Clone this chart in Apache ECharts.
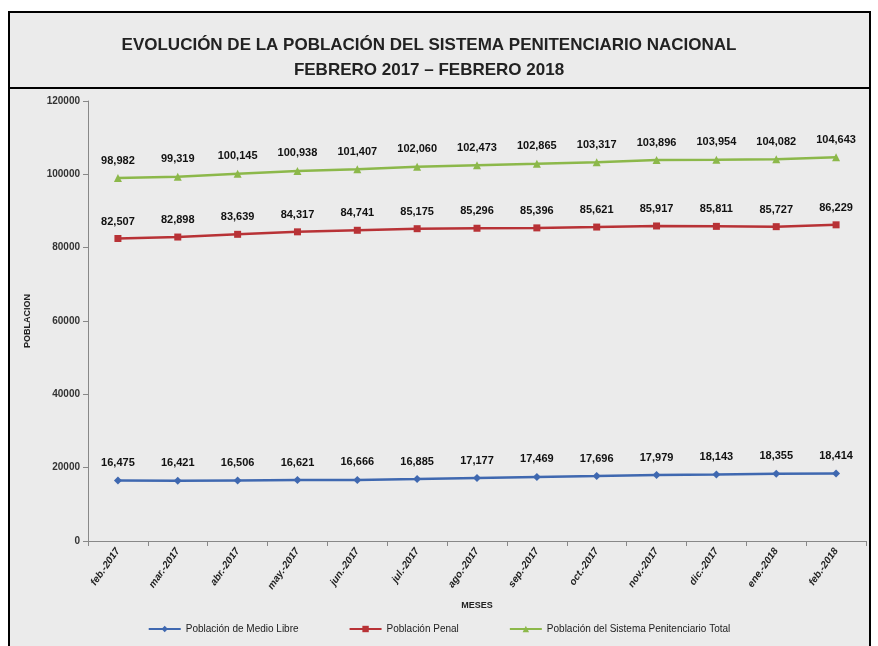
<!DOCTYPE html>
<html><head><meta charset="utf-8">
<script src="https://cdn.jsdelivr.net/npm/echarts@6/dist/echarts.min.js"></script>
<style>html,body{margin:0;padding:0;background:#fff}#c{width:878px;height:646px}</style>
</head><body><div id="c"></div>
<script>
const categories = ['feb.-2017','mar.-2017','abr.-2017','may.-2017','jun.-2017','jul.-2017','ago.-2017','sep.-2017','oct.-2017','nov.-2017','dic.-2017','ene.-2018','feb.-2018'];
const medioLibre = [16475,16421,16506,16621,16666,16885,17177,17469,17696,17979,18143,18355,18414];
const penal = [82507,82898,83639,84317,84741,85175,85296,85396,85621,85917,85811,85727,86229];
const total = [98982,99319,100145,100938,101407,102060,102473,102865,103317,103896,103954,104082,104643];
const seriesNames = ['Población de Medio Libre','Población Penal','Población del Sistema Penitenciario Total'];
const yTicks = [0,20000,40000,60000,80000,100000,120000];

const chart = echarts.init(document.getElementById('c'));
const fmt = v => v.toLocaleString('en-US');
const lab = {show:true,position:'top',distance:8,color:'#111',fontWeight:'bold',fontSize:11,fontFamily:'Liberation Sans, sans-serif',formatter:p=>fmt(p.value)};
function mk(name,data,color,symbol,size){
  return {name,type:'line',data,symbol,symbolSize:size,itemStyle:{color},lineStyle:{color,width:2.5},label:lab};
}
chart.setOption({
  backgroundColor:'#fff',
  animation:false,
  graphic:[
    {type:'rect',z:-10,shape:{x:9,y:12,width:861,height:700},style:{fill:'#ebebeb',stroke:'#000',lineWidth:2}},
    {type:'line',z:-9,shape:{x1:9,y1:88,x2:870,y2:88},style:{stroke:'#000',lineWidth:2}},
    {type:'text',x:429,y:37,style:{text:'EVOLUCIÓN DE LA POBLACIÓN DEL SISTEMA PENITENCIARIO NACIONAL',font:'bold 17px "Liberation Sans", sans-serif',fill:'#222',align:'center'}},
    {type:'text',x:429,y:62,style:{text:'FEBRERO 2017 – FEBRERO 2018',font:'bold 17px "Liberation Sans", sans-serif',fill:'#222',align:'center'}}
  ],
  grid:{left:88,right:12,top:101,bottom:105,containLabel:false},
  legend:{bottom:7,left:'center',itemGap:50,itemWidth:32,itemHeight:8,textStyle:{fontSize:10,color:'#222'},data:seriesNames},
  xAxis:{type:'category',data:categories,boundaryGap:true,name:'MESES',nameLocation:'middle',nameGap:60,
    nameTextStyle:{fontSize:9,fontWeight:'bold',color:'#222'},
    axisLine:{lineStyle:{color:'#888',width:1}},axisTick:{show:true,alignWithLabel:false,length:5,lineStyle:{color:'#888'}},
    axisLabel:{rotate:55,fontSize:10,fontStyle:'italic',fontWeight:'bold',color:'#222',margin:8}},
  yAxis:{type:'value',min:0,max:120000,interval:20000,name:'POBLACION',nameLocation:'middle',nameGap:56,nameRotate:90,
    nameTextStyle:{fontSize:9,fontWeight:'bold',color:'#222'},
    axisLine:{show:true,lineStyle:{color:'#888'}},axisTick:{show:true,length:5,lineStyle:{color:'#888'}},splitLine:{show:false},
    axisLabel:{fontSize:10,fontWeight:'bold',color:'#333',margin:8,formatter:v=>yTicks.includes(v)?String(v):''}},
  series:[
    mk(seriesNames[0],medioLibre,'#3f68b0','diamond',8),
    mk(seriesNames[1],penal,'#b83236','rect',7),
    mk(seriesNames[2],total,'#8cb84a','triangle',8)
  ]
});
</script></body></html>
